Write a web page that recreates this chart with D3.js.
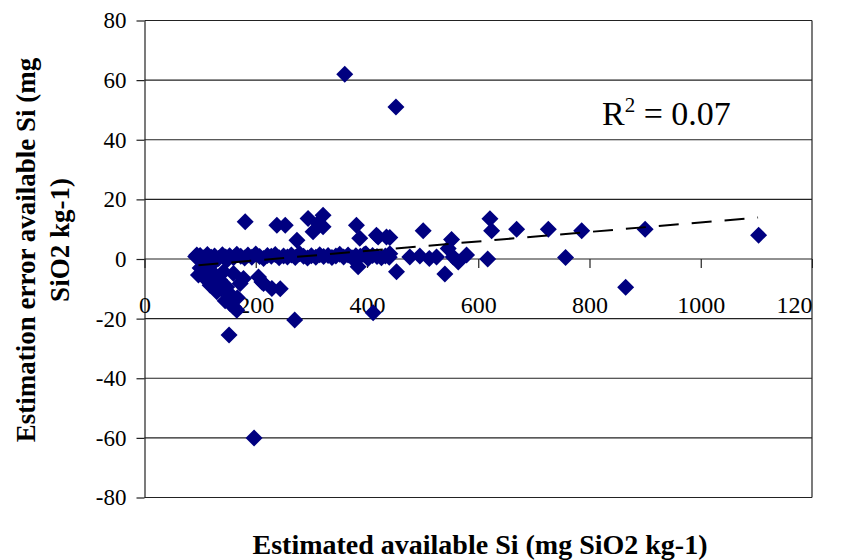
<!DOCTYPE html>
<html>
<head>
<meta charset="utf-8">
<script src="https://cdn.jsdelivr.net/npm/d3@7"></script>
<style>
body { margin: 0; background: #fff; }
svg text { font-family: "Liberation Serif", "Times New Roman", serif; }
</style>
</head>
<body>
<div id="chart"></div>
<script>
// data
var sparseX = [360, 452, 197, 411, 270, 152, 865, 1104, 900, 786, 669, 726, 757, 621, 624, 617,
    501, 552, 546, 540, 555, 579, 564, 525, 512, 495, 477, 453, 441, 441,
    253, 244, 274, 294, 303, 321, 321, 312, 381, 387, 417, 435, 384, 398, 420,
    181, 238, 94, 97, 109, 118, 130, 148, 154, 166, 172, 178, 160, 142, 211, 229,
    127, 148, 205, 214, 160, 100, 120, 135, 155, 145, 167, 112, 138];
var sparseY = [62, 51, -60, -18, -20.5, -25.5, -9.5, 8, 10, 9.5, 10, 10, 0.5, 13.5, 9.5, 0,
    9.5, 6.5, 3.5, -5, 0.7, 1.3, -1, 0.7, 0.2, 1, 0.7, -4.3, 7.2, 1.8,
    11.3, -10, 6.3, 13.6, 9.1, 14.7, 10.8, 12, 11.3, 7, 8, 7.4, -2.6, 1.8, 7.4,
    12.5, 11.3, 1.3, -5.4, -6.5, -8.8, -11, -9.4, -15, -17.2, -8.2, -6.5, -4.9, -4.3, -7.7, -9.9,
    -5.4, -0.4, -6, -8.2, -16, -3, -2, -7, -12, -14, -13, -4, -10];
// dense band of points around zero
var bandX = [92, 100, 106, 113, 120, 126, 133, 140, 146, 153, 160, 166, 173, 180, 186, 193, 200,
    207, 214, 221, 228, 235, 242, 250, 257, 264, 271, 279, 286, 293, 300, 308, 315, 322, 330,
    337, 344, 351, 358, 366, 373, 380, 388, 395, 402, 410, 418, 426, 433, 440];
var bandY = [0.8, 1.2, 0.3, 1.5, 0.6, 1.0, 0.2, 1.4, 0.7, 1.1, 0.4, 1.6, 0.9, 0.3, 1.3, 0.6, 1.7,
    0.8, 0.2, 1.2, 0.9, 1.5, 0.4, 1.0, 0.7, 1.3, 0.5, 1.8, 0.9, 0.3, 1.1, 0.6, 1.4, 0.8, 1.2,
    0.5, 1.0, 1.6, 0.7, 1.3, 0.4, 1.1, 0.9, 1.5, 0.2, 1.2, 0.8, 0.4, 1.0, 0.6];
var trendX = [97, 1103];
var trendY = [-2.1, 13.9];
var xTicks = [0, 200, 400, 600, 800, 1000, 1200];
var yTicks = [-80, -60, -40, -20, 0, 20, 40, 60, 80];

var points = [];
for (var i = 0; i < bandX.length; i++) points.push([bandX[i], bandY[i]]);
for (var i = 0; i < sparseX.length; i++) points.push([sparseX[i], sparseY[i]]);

var svg = d3.select("#chart").append("svg")
    .attr("width", 842)
    .attr("height", 560);

var plotL = 144.5, plotR = 812, plotT = 20.5, plotB = 497.5;

var xScale = d3.scaleLinear().domain([0, 1200]).range([plotL, plotR]),
    yScale = d3.scaleLinear().domain([-80, 80]).range([plotB, plotT]);

svg.append("defs").append("clipPath").attr("id", "clip")
    .append("rect").attr("x", 0).attr("y", -20).attr("width", plotR + 1).attr("height", 100);

// horizontal grid lines
svg.append("g").selectAll("line")
    .data(yTicks)
    .enter().append("line")
    .attr("x1", plotL).attr("x2", plotR)
    .attr("y1", function(d) { return yScale(d); })
    .attr("y2", function(d) { return yScale(d); })
    .style("stroke", "#222")
    .style("stroke-width", 1.2);

// right border
svg.append("line")
    .attr("x1", plotR).attr("x2", plotR).attr("y1", plotT).attr("y2", plotB)
    .style("stroke", "#222").style("stroke-width", 1.2);

// y axis
var yAxis = svg.append("g")
    .attr("transform", "translate(" + plotL + ",0)")
    .call(d3.axisLeft(yScale).tickValues(yTicks).tickFormat(function(d) { return String(d); })
        .tickSize(8).tickSizeOuter(0).tickPadding(10));
yAxis.attr("font-family", "Liberation Serif");
yAxis.select(".domain").style("stroke", "#222").style("stroke-width", 1.2);
yAxis.selectAll(".tick line").style("stroke", "#222").style("stroke-width", 1.2);
yAxis.selectAll("text")
    .style("font-family", "'Liberation Serif', serif")
    .style("font-size", "23px")
    .style("fill", "#000");

// x axis at y = 0
var xAxis = svg.append("g")
    .attr("transform", "translate(0," + yScale(0) + ")")
    .attr("clip-path", "url(#clip)")
    .call(d3.axisBottom(xScale).tickValues(xTicks).tickFormat(function(d) { return String(d); })
        .tickSize(9).tickSizeOuter(0).tickPadding(28));
xAxis.attr("font-family", "Liberation Serif");
xAxis.select(".domain").remove();
xAxis.selectAll(".tick line").style("stroke", "#222").style("stroke-width", 1.2);
xAxis.selectAll("text")
    .style("font-family", "'Liberation Serif', serif")
    .style("font-size", "24px")
    .style("fill", "#000");
// the last label sits a little left of its tick, as in the original
xAxis.selectAll("text").filter(function(d) { return d === 1200; }).attr("dx", -12);

// points
var diamond = "M0,-8.5L8.5,0L0,8.5L-8.5,0Z";
svg.append("g").selectAll("path")
    .data(points)
    .enter().append("path")
    .attr("d", diamond)
    .attr("transform", function(d) { return "translate(" + xScale(d[0]) + "," + yScale(d[1]) + ")"; })
    .style("fill", "#000080");

// trend line
var line = d3.line()
    .x(function(d) { return xScale(d[0]); })
    .y(function(d) { return yScale(d[1]); });
svg.append("path")
    .datum([[trendX[0], trendY[0]], [trendX[1], trendY[1]]])
    .attr("d", line)
    .style("fill", "none")
    .style("stroke", "#000")
    .style("stroke-width", 2)
    .style("stroke-dasharray", "20,13");

// R squared
var r2 = svg.append("text")
    .attr("x", 602)
    .attr("y", 125)
    .style("font-size", "34px");
r2.append("tspan").text("R");
r2.append("tspan").attr("dy", -13).style("font-size", "21px").text("2");
r2.append("tspan").attr("dy", 13).text(" = 0.07");

// axis titles
svg.append("text")
    .attr("x", 480)
    .attr("y", 554)
    .attr("text-anchor", "middle")
    .style("font-size", "28px")
    .style("font-weight", "bold")
    .text("Estimated available Si (mg SiO2 kg-1)");

svg.append("text")
    .attr("text-anchor", "middle")
    .attr("transform", "translate(35,250)rotate(-90)")
    .style("font-size", "27px")
    .style("font-weight", "bold")
    .text("Estimation error available Si (mg");

svg.append("text")
    .attr("text-anchor", "middle")
    .attr("transform", "translate(69,240)rotate(-90)")
    .style("font-size", "27px")
    .style("font-weight", "bold")
    .text("SiO2 kg-1)");
</script>
</body>
</html>
